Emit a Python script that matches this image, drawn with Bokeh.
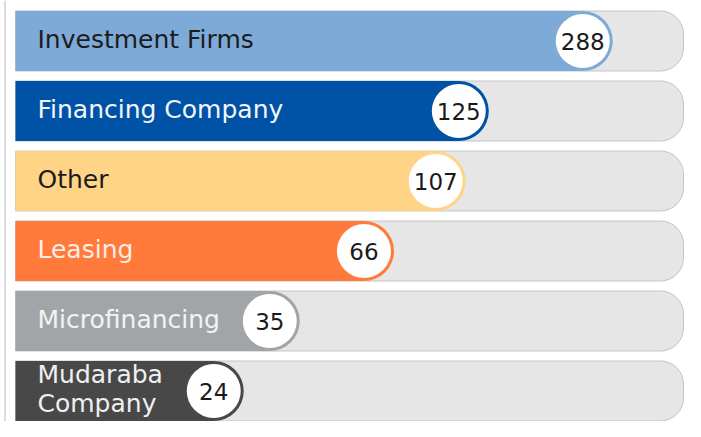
import math
from bokeh.plotting import figure
from bokeh.models import Range1d, Span, ColumnDataSource
from bokeh.core.properties import value
from bokeh.embed import file_html
from bokeh.resources import INLINE

# ---- data ----
categories = ["Investment Firms", "Financing Company", "Other", "Leasing",
              "Microfinancing", "Mudaraba\nCompany"]
counts = [288, 125, 107, 66, 35, 24]
bar_colors = ["#7eaad8", "#0052a6", "#ffd487", "#ff7a3b", "#a2a5a8", "#484848"]
label_colors = ["#1c1c1c", "#f4f6fa", "#1c1c1c", "#fbeee6", "#f3f3f3", "#f0f0f0"]

# ---- layout helpers (pixel -> log-scale value) ----
A, C = 148.5, -258.7
def xval(px):
    return math.exp((px - C) / A)

ROW0, STEP = 40.5, 70.0
def yval(py):
    return (py - ROW0) / STEP

W, H = 685, 421
base = xval(15)
track_end = xval(683)
FONT = value("DejaVu Sans")

rows = list(range(len(categories)))
src = ColumnDataSource(dict(y=rows, cnt=counts, txt=[str(c) for c in counts],
                            lab=categories, col=bar_colors, lcol=label_colors,
                            base=[base] * len(rows), tend=[track_end] * len(rows)))

p = figure(width=W, height=H, x_axis_type="log",
           x_range=Range1d(xval(0), xval(W)),
           y_range=Range1d(yval(H), yval(0)),
           output_backend="svg", toolbar_location=None, min_border=0)
p.axis.visible = False
p.grid.visible = False
p.outline_line_color = None
p.background_fill_color = "white"

BAR_PX = 60
bh = BAR_PX / STEP
# track
p.hbar(y="y", left="base", right="tend", height=bh, source=src,
       fill_color="#e6e6e6", line_color="#c4c4c4", line_width=1,
       border_radius=(0, 23, 23, 0))
# value bars
p.hbar(y="y", left="base", right="cnt", height=bh, source=src,
       fill_color="col", line_color=None)
p.scatter(x="cnt", y="y", size=BAR_PX, marker="circle", source=src,
          fill_color="col", line_color=None)
p.scatter(x="cnt", y="y", size=BAR_PX - 6, marker="circle", source=src,
          fill_color="white", line_color=None)

# axis-like line at the left
p.add_layout(Span(location=xval(4.5), dimension="height",
                  line_color="#b8b8b8", line_width=1))

# labels
p.text(x="base", y="y", text="lab", source=src, x_offset=22, y_offset=-2,
       text_align="left", text_baseline="middle",
       text_font=FONT, text_font_size="25px",
       text_color="lcol", text_line_height=1.02)
p.text(x="cnt", y="y", text="txt", source=src,
       text_align="center", text_baseline="middle",
       text_font=FONT, text_font_size="23px",
       text_color="#1a1a1a")

open("out.html", "w").write(file_html(p, INLINE))
